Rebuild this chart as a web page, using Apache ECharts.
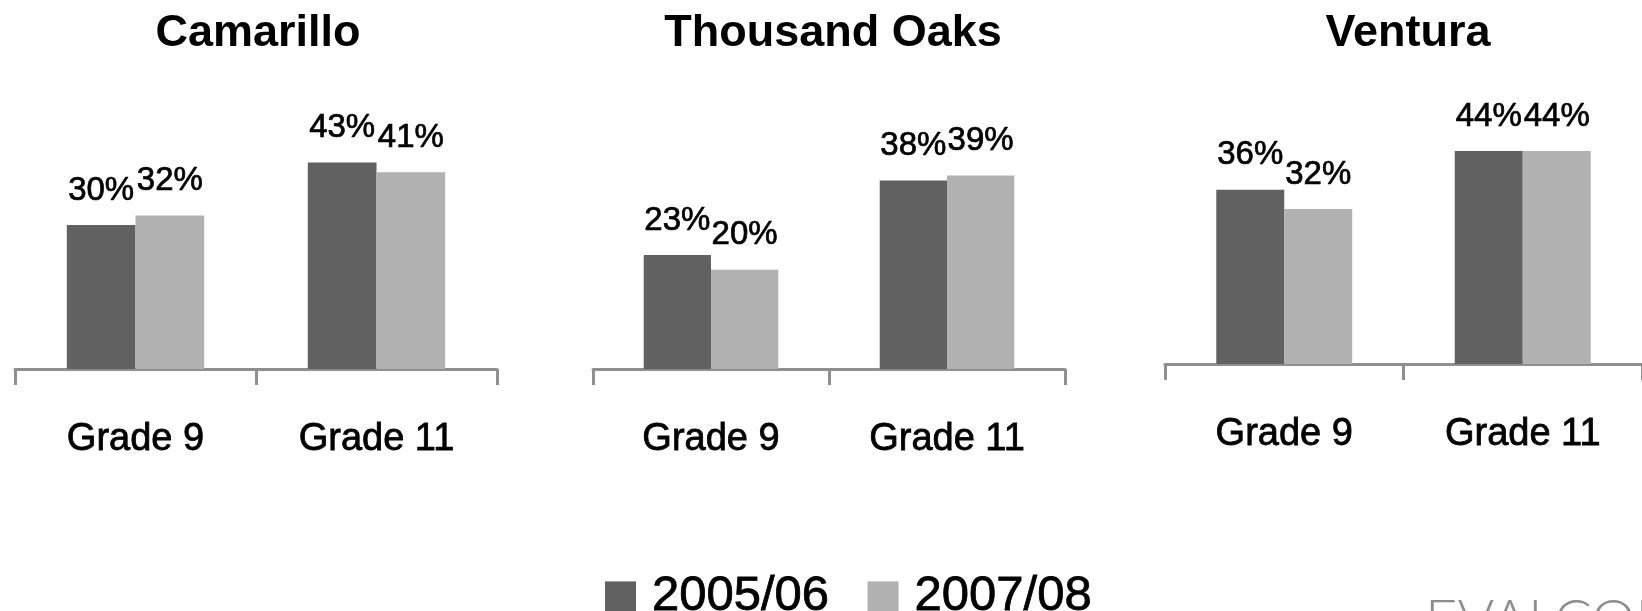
<!DOCTYPE html>
<html>
<head>
<meta charset="utf-8">
<script src="https://cdn.jsdelivr.net/npm/echarts@6/dist/echarts.min.js"></script>
<style>
    html, body { margin: 0; padding: 0; background: #fff; }
    #chart { width: 1642px; height: 611px; }
</style>
</head>
<body>
<div id="chart"></div>
<script>
// dados
var grades = ['Grade 9', 'Grade 11'];
var years = ['2005/06', '2007/08'];
var camarillo0506 = [30, 43];
var camarillo0708 = [32, 41];
var thousandOaks0506 = [23, 38];
var thousandOaks0708 = [20, 39];
var ventura0506 = [36, 44];
var ventura0708 = [32, 44];

var corEscura = '#616161';
var corClara = '#b1b1b1';
var fonte = '"Liberation Sans", Arial, sans-serif';

var chartDom = document.getElementById('chart');
var myChart = echarts.init(chartDom);

var grids = [
    { left: 15, width: 482, top: 129, height: 240 },
    { left: 593, width: 472, top: 121, height: 248 },
    { left: 1165, width: 486, top: 122, height: 242 }
];

function eixoX(i) {
    return {
        type: 'category',
        gridIndex: i,
        data: grades,
        axisLine: { show: true, lineStyle: { color: '#8f8f8f', width: 3 } },
        axisTick: { show: true, alignWithLabel: false, interval: 0, length: 16, lineStyle: { color: '#8f8f8f', width: 3 } },
        axisLabel: {
            color: '#000', fontSize: 38, fontFamily: fonte, margin: 52,
            textBorderColor: '#000', textBorderWidth: 0.8
        }
    };
}

function eixoY(i) {
    return { type: 'value', gridIndex: i, min: 0, max: 50, show: false };
}

function serie(nome, dados, cor, i) {
    return {
        name: nome,
        type: 'bar',
        xAxisIndex: i,
        yAxisIndex: i,
        data: dados,
        barGap: 0,
        barCategoryGap: '43%',
        itemStyle: { color: cor },
        label: {
            show: true,
            position: 'top',
            distance: 18,
            formatter: '{c}%',
            color: '#000',
            fontSize: 33,
            fontFamily: fonte,
            textBorderColor: '#000',
            textBorderWidth: 0.7
        }
    };
}

function titulo(texto, x) {
    return {
        text: texto,
        left: x,
        top: 6,
        textAlign: 'center',
        textStyle: { fontSize: 45, fontWeight: 'bold', color: '#000', fontFamily: fonte }
    };
}

var option = {
    animation: false,
    title: [
        titulo('Camarillo', 253),
        titulo('Thousand Oaks', 828),
        titulo('Ventura', 1403)
    ],
    legend: {
        data: years,
        left: 600,
        top: 567,
        itemWidth: 31,
        itemHeight: 31,
        itemGap: 38,
        icon: 'rect',
        textStyle: {
            fontSize: 49, color: '#000', fontFamily: fonte, padding: [0, 0, 0, 11],
            textBorderColor: '#000', textBorderWidth: 0.8
        }
    },
    grid: grids,
    xAxis: [eixoX(0), eixoX(1), eixoX(2)],
    yAxis: [eixoY(0), eixoY(1), eixoY(2)],
    series: [
        serie(years[0], camarillo0506, corEscura, 0),
        serie(years[1], camarillo0708, corClara, 0),
        serie(years[0], thousandOaks0506, corEscura, 1),
        serie(years[1], thousandOaks0708, corClara, 1),
        serie(years[0], ventura0506, corEscura, 2),
        serie(years[1], ventura0708, corClara, 2)
    ],
    graphic: [{
        type: 'text',
        left: 1425,
        top: 593,
        style: {
            text: 'EVALCORP',
            fontSize: 56,
            fontFamily: 'Lato, sans-serif',
            fontWeight: 300,
            fill: '#8d8d8d'
        }
    }]
};

option && myChart.setOption(option);
</script>
</body>
</html>
